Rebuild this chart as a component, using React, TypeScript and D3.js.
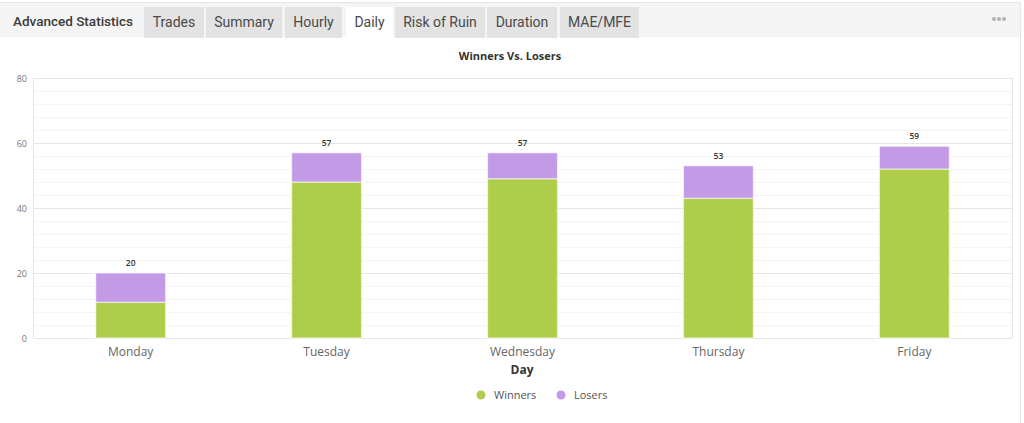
import React, { useEffect } from "react";
import * as d3 from "d3";

const days = ["Monday", "Tuesday", "Wednesday", "Thursday", "Friday"];
const winners = [11, 48, 49, 43, 52];
const losers = [9, 9, 8, 10, 7];
const yTicks = [0, 20, 40, 60, 80];
const tabs = ["Trades", "Summary", "Hourly", "Daily", "Risk of Ruin", "Duration", "MAE/MFE"];
const activeTab = "Daily";
const seriesNames = ["Winners", "Losers"];

const W = 1024;
const H = 423;
const GREEN = "#aecd4b";
const PURPLE = "#c39ae5";

export default function App() {
  useEffect(() => {
    document.body.style.margin = "0";
  }, []);

  const plot = { left: 33, right: 1012, top: 78, bottom: 338 };
  const x = d3.scaleBand<string>().domain(days).range([plot.left, plot.right]).paddingInner(0.643).paddingOuter(0.32);
  const y = d3.scaleLinear().domain([0, 80]).range([plot.bottom, plot.top]);
  const minor = d3.range(0, 81, 4);

  const stacked = d3.stack<any>().keys(["w", "l"])(days.map((d, i) => ({ day: d, w: winners[i], l: losers[i] })));
  const colors = [GREEN, PURPLE];

  const tabX = [144, 206, 285, 346, 395, 487, 560];
  const tabW = [60, 76, 57, 47, 90, 70, 79];

  return (
    <svg width={W} height={H} style={{ display: "block", background: "#fff" }}>
      <rect x={0} y={2} width={1020} height={35} fill="#f5f5f5" />
      <line x1={0} x2={1020} y1={2.5} y2={2.5} stroke="#e6e6e6" />
      <line x1={1020.5} x2={1020.5} y1={2} y2={H} stroke="#e6e6e6" />
      <text x={13} y={26} fontFamily="Roboto" fontSize={13.5} fontWeight={500} fill="#3a3a3a">Advanced Statistics</text>
      {tabs.map((t, i) => (
        <g key={t}>
          <rect x={tabX[i]} y={7} width={tabW[i]} height={31} fill={t === activeTab ? "#ffffff" : "#e3e3e3"} />
          <text x={tabX[i] + tabW[i] / 2} y={27} textAnchor="middle" fontFamily="Roboto" fontSize={14} fill="#4a4a4a">{t}</text>
        </g>
      ))}
      {[0, 1, 2].map((k) => (
        <circle key={k} cx={994 + k * 5} cy={19} r={2.1} fill="#b5b5b5" />
      ))}

      <text x={510} y={60} textAnchor="middle" fontFamily="Open Sans, sans-serif" fontSize={11} fontWeight={700} fill="#333">Winners Vs. Losers</text>

      {minor.map((v) => (
        <line key={"m" + v} x1={plot.left} x2={plot.right} y1={y(v) + 0.5} y2={y(v) + 0.5} stroke={v % 20 === 0 ? "#e6e6e6" : "#f4f4f4"} strokeWidth={1} />
      ))}
      <line x1={plot.left + 0.5} x2={plot.left + 0.5} y1={plot.top} y2={plot.bottom} stroke="#e6e6e6" />
      <line x1={plot.right + 0.5} x2={plot.right + 0.5} y1={plot.top} y2={plot.bottom} stroke="#e6e6e6" />

      {yTicks.map((v) => (
        <text key={"t" + v} x={27} y={y(v) + 3.5} textAnchor="end" fontFamily="Open Sans, sans-serif" fontSize={9} fill="#777">{v}</text>
      ))}

      {stacked.map((s, si) =>
        s.map((d, i) => (
          <rect key={si + "-" + i} x={x(days[i])!} width={x.bandwidth()} y={y(d[1])} height={y(d[0]) - y(d[1])} fill={colors[si]} stroke="#ffffff" strokeOpacity={0.6} strokeWidth={1.2} />
        ))
      )}
      {days.map((d, i) => (
        <text key={"v" + d} x={x(d)! + x.bandwidth() / 2} y={y(winners[i] + losers[i]) - 7} textAnchor="middle" fontFamily="Open Sans, sans-serif" fontSize={8.5} fontWeight={600} fill="#333">{winners[i] + losers[i]}</text>
      ))}
      {days.map((d) => (
        <text key={"x" + d} x={x(d)! + x.bandwidth() / 2} y={356} textAnchor="middle" fontFamily="Open Sans, sans-serif" fontSize={12} fill="#666">{d}</text>
      ))}
      <text x={522} y={374} textAnchor="middle" fontFamily="Open Sans, sans-serif" fontSize={12} fontWeight={700} fill="#333">Day</text>

      {seriesNames.map((n, i) => (
        <g key={n} transform={`translate(${i === 0 ? 481 : 561},395)`}>
          <circle cx={0} cy={0} r={4.5} fill={colors[i]} />
          <text x={13} y={4} fontFamily="Open Sans, sans-serif" fontSize={11} fill="#555">{n}</text>
        </g>
      ))}
    </svg>
  );
}
